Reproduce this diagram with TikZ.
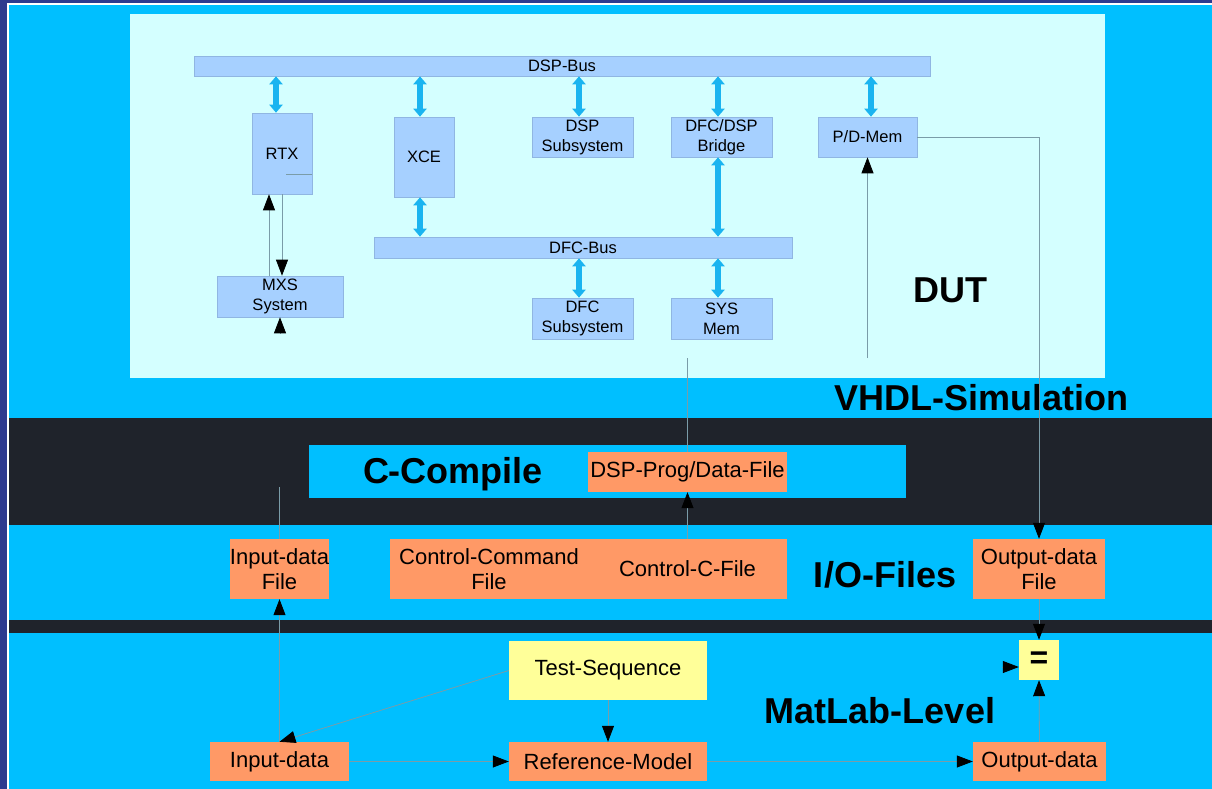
\documentclass[tikz,border=0pt]{standalone}
\usepackage{fontspec}
\setmainfont{Liberation Sans}
\usetikzlibrary{arrows.meta,calc}

\definecolor{frame}{HTML}{2E3A8F}
\definecolor{sky}{HTML}{00BFFF}
\definecolor{band}{HTML}{1F232B}
\definecolor{panel}{HTML}{D4FFFF}
\definecolor{unit}{HTML}{A6D0FF}
\definecolor{unitedge}{HTML}{90B6E2}
\definecolor{file}{HTML}{FF9966}
\definecolor{note}{HTML}{FFFF99}
\definecolor{busarrow}{HTML}{1AB4F0}
\definecolor{wirecol}{HTML}{7A9CA8}

\tikzset{
  unitbox/.style={fill=unit, draw=unitedge, line width=0.6pt, inner sep=0pt,
    align=center, font=\fontsize{16.5}{20}\selectfont},
  filebox/.style={fill=file, inner sep=0pt, align=center,
    font=\fontsize{22}{25.5}\selectfont},
  notebox/.style={fill=note, inner sep=0pt, align=center,
    font=\fontsize{22}{25.5}\selectfont},
  busline/.style={busarrow, line width=6pt,
    {Triangle[length=8pt,width=13pt]}-{Triangle[length=8pt,width=13pt]}},
  wire/.style={wirecol, line width=0.8pt},
  flow/.style={wire, -{Triangle[length=16pt,width=12pt,color=black]}},
  biglabel/.style={font=\bfseries\fontsize{36}{40}\selectfont, anchor=base, inner sep=0pt},
}

\begin{document}
\begin{tikzpicture}[x=1pt, y=-1pt]
\useasboundingbox (0,0) rectangle (1212,789);

% frame and layer bands
\fill[frame] (0,0) rectangle (1212,789);
\fill[white] (7,3) rectangle (1212,789);
\fill[sky] (9,5) rectangle (1212,789);
\fill[band] (9,418) rectangle (1212,525);
\fill[band] (9,620) rectangle (1212,633);
\fill[panel] (130,14) rectangle (1105,378);
\fill[sky] (309,445) rectangle (906,498);

% DUT: buses and units
\node[unitbox, minimum width=736pt, minimum height=20pt] (dspbus) at (562,66) {DSP-Bus};
\node[unitbox, minimum width=418pt, minimum height=21pt] (dfcbus) at (583,247.5) {DFC-Bus};
\node[unitbox, minimum width=60pt, minimum height=81pt] (rtx) at (282,153.5) {RTX};
\node[unitbox, minimum width=60pt, minimum height=80pt] (xce) at (424,157) {XCE};
\node[unitbox, minimum width=101pt, minimum height=40pt] (dspsub) at (582.5,137) {DSP\\Subsystem};
\node[unitbox, minimum width=101pt, minimum height=40pt] (bridge) at (721.5,137) {DFC/DSP\\Bridge};
\node[unitbox, minimum width=99pt, minimum height=40pt] (pdmem) at (867.5,137) {P/D-Mem};
\node[unitbox, minimum width=101pt, minimum height=41pt] (dfcsub) at (582.5,318.5) {DFC\\Subsystem};
\node[unitbox, minimum width=101pt, minimum height=41pt] (sysmem) at (721.5,318.5) {SYS\\Mem};
\node[unitbox, minimum width=126pt, minimum height=41pt] (mxs) at (280,296.5) {MXS\\System};
\draw[wire] ([yshift=-20.5pt]rtx.east) -- ++(-26,0);

% bus connections
\draw[busline] ([xshift=-6pt]rtx.north |- dspbus.south) -- ([xshift=-6pt]rtx.north);
\draw[busline] ([xshift=-4pt]xce.north |- dspbus.south) -- ([xshift=-4pt]xce.north);
\draw[busline] ([xshift=-4pt]xce.south) -- ([xshift=-4pt]xce.south |- dfcbus.north);
\draw[busline] ([xshift=-3.5pt]dspsub.north |- dspbus.south) -- ([xshift=-3.5pt]dspsub.north);
\draw[busline] ([xshift=-3.5pt]bridge.north |- dspbus.south) -- ([xshift=-3.5pt]bridge.north);
\draw[busline] ([xshift=-3.5pt]bridge.south) -- ([xshift=-3.5pt]bridge.south |- dfcbus.north);
\draw[busline] ([xshift=3.5pt]pdmem.north |- dspbus.south) -- ([xshift=3.5pt]pdmem.north);
\draw[busline] ([xshift=-3.5pt]dfcsub.north |- dfcbus.south) -- ([xshift=-3.5pt]dfcsub.north);
\draw[busline] ([xshift=-3.5pt]sysmem.north |- dfcbus.south) -- ([xshift=-3.5pt]sysmem.north);

% C compile layer
\node[biglabel] (ccomp) at (453,483) {C-Compile};
\node[filebox, minimum width=199pt, minimum height=40pt] (prog) at (687.5,472) {DSP-Prog/Data-File};

% I/O files layer
\node[filebox, minimum width=99pt, minimum height=60pt] (idf) at (279.5,569) {Input-data\\File};
\node[filebox, minimum width=198pt, minimum height=60pt] (ccmd) at (489,569) {Control-Command\\File};
\node[filebox, minimum width=199pt, minimum height=60pt] (ccfile) at (687.5,569) {Control-C-File};
\node[filebox, minimum width=132pt, minimum height=60pt] (odf) at (1039,569) {Output-data\\File};

% MatLab layer
\node[notebox, minimum width=198pt, minimum height=59pt] (ts) at (608,670.5) {Test-Sequence};
\node[notebox, minimum width=40pt, minimum height=40pt, font=\bfseries\fontsize{32}{34}\selectfont] (eq) at (1039,660) {=};
\node[filebox, minimum width=139pt, minimum height=39pt] (inp) at (279.5,761.5) {Input-data};
\node[filebox, minimum width=198pt, minimum height=39pt] (ref) at (608,761.5) {Reference-Model};
\node[filebox, minimum width=133pt, minimum height=39pt] (outd) at (1039.5,761.5) {Output-data};

% layer titles
\node[biglabel] (dut) at (950.5,302) {DUT};
\node[biglabel] (vhdl) at (981.5,410) {VHDL-Simulation};
\node[biglabel] (iof) at (885,587) {I/O-Files};
\node[biglabel] (mat) at (880,723) {MatLab-Level};

% loose ends of signal lines
\coordinate (mxsfeed) at (280,333);
\coordinate (pdfeed) at (867.5,358);
\coordinate (progout) at (687.5,358);
\coordinate (idfout) at (279.5,487);
\coordinate (eqfeed) at (1002,667);

% signal lines
\draw[flow] ([xshift=-11pt]mxs.north) -- ([xshift=-11pt]mxs.north |- rtx.south);
\draw[flow] ([xshift=2pt]mxs.north |- rtx.south) -- ([xshift=2pt]mxs.north);
\draw[flow] (mxsfeed) -- (mxs.south);
\draw[flow] (pdmem.east) -| (odf.north);
\draw[flow] (pdfeed) -- (pdmem.south);
\draw[wire] (prog.north) -- (progout);
\draw[flow] (ccfile.north) -- (prog.south);
\draw[wire] (idf.north) -- (idfout);
\draw[flow] (inp.north) -- (idf.south);
\draw[flow] (ts.west) -- (inp.north);
\draw[flow] (inp.east) -- (ref.west);
\draw[flow] (ref.east) -- (outd.west);
\draw[flow] (ts.south) -- (ref.north);
\draw[flow] (outd.north) -- (eq.south);
\draw[flow] (odf.south) -- (eq.north);
\draw[flow] (eqfeed) -- (eqfeed -| eq.west);
\end{tikzpicture}
\end{document}
